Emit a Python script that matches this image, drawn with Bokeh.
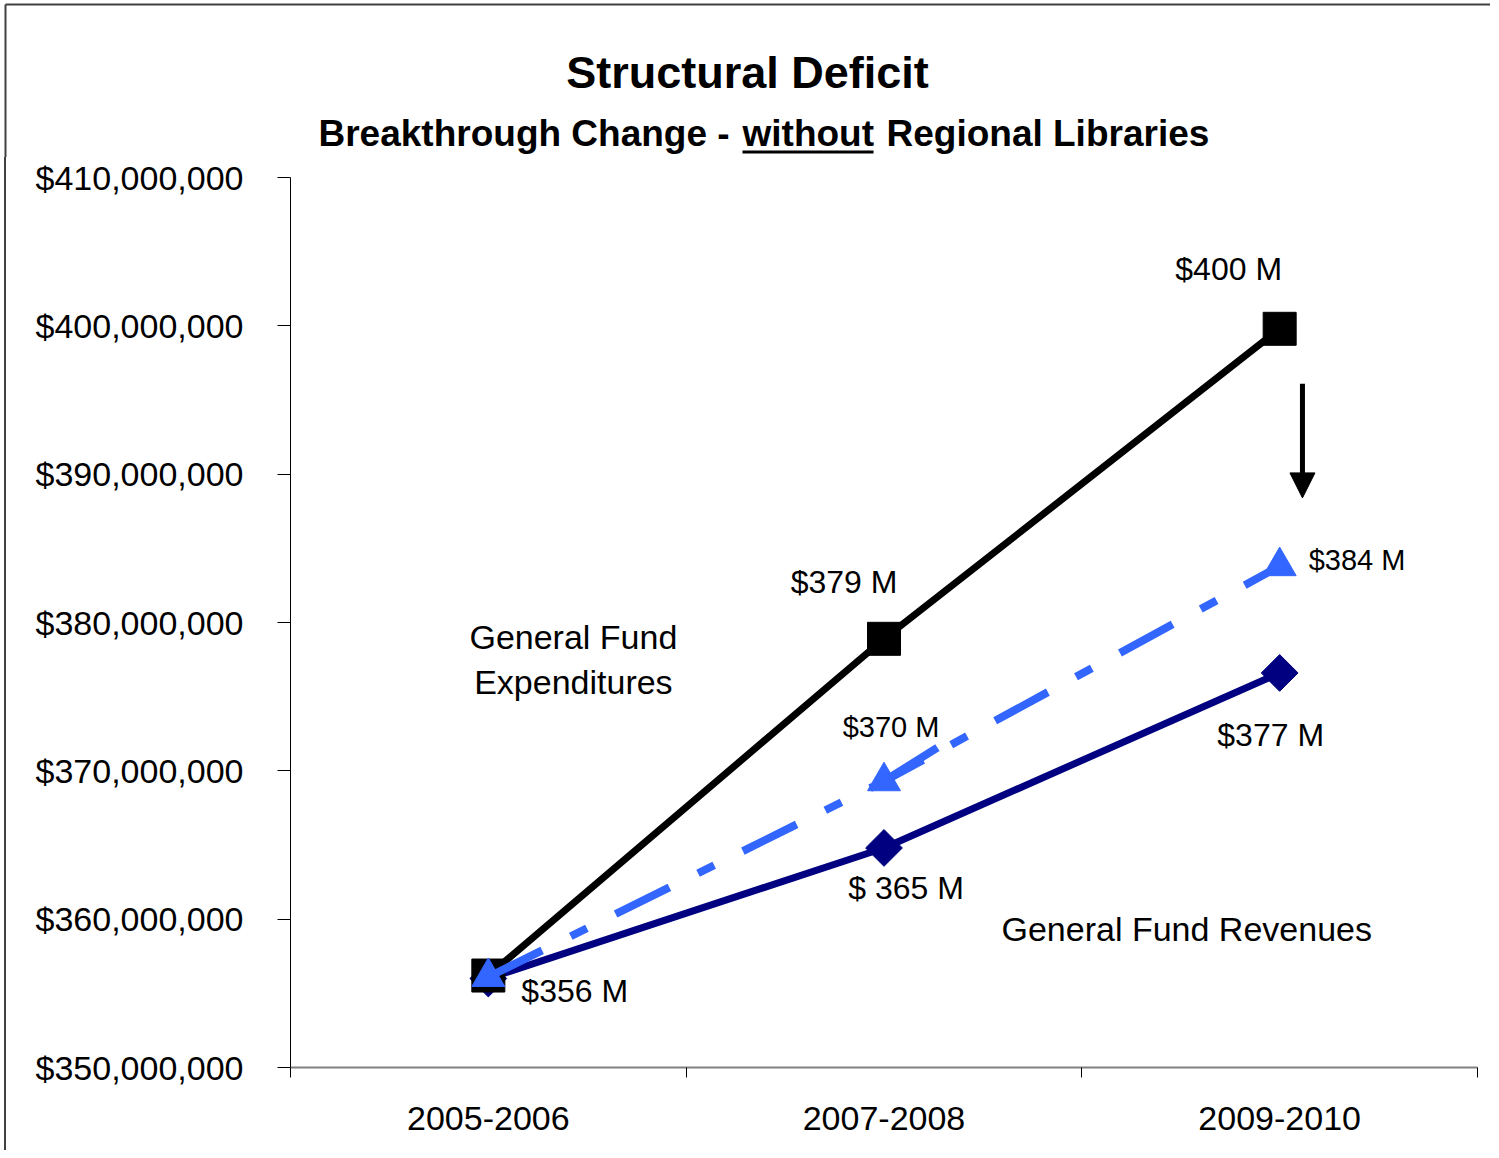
import math
from bokeh.plotting import figure
from bokeh.layouts import column, row
from bokeh.models import (Range1d, FixedTicker, NumeralTickFormatter,
                          Arrow, NormalHead, Div)
from bokeh.embed import file_html
from bokeh.resources import INLINE
from bokeh.core.properties import value

# ---------------- data ----------------
categories = ["2005-2006", "2007-2008", "2009-2010"]
expenditures_m = [356.2, 378.9, 399.8]     # General Fund Expenditures ($M)
revenues_m = [356.0, 364.8, 376.6]         # General Fund Revenues ($M)
breakthrough_m = [356.1, 369.3, 383.8]     # Breakthrough change ($M)
exp_labels = ["$356 M", "$379 M", "$400 M"]
rev_labels = ["$ 365 M", "$377 M"]
brk_labels = ["$370 M", "$384 M"]
y_ticks_m = [350, 360, 370, 380, 390, 400, 410]

title_text = "Structural Deficit"
subtitle_parts = ["Breakthrough Change -", "without", "Regional Libraries"]

# ---------------- layout constants ----------------
W = 1490
TOP_H = 157
MAIN_H = 993
STRIP_W = 8
FONT = "Liberation Sans"
FRAME_COLOR = "#404040"
M = 1e6


def blank(width, height):
    f = figure(width=width, height=height, output_backend="svg", toolbar_location=None,
               x_range=Range1d(0, width), y_range=Range1d(height, 0),
               x_axis_type=None, y_axis_type=None,
               min_border_left=0, min_border_right=0, min_border_top=0, min_border_bottom=0)
    f.grid.visible = False
    f.outline_line_color = None
    f.background_fill_color = "white"
    f.border_fill_color = "white"
    return f


# ---------------- title band ----------------
top = blank(W, TOP_H)
top.segment(x0=[5], y0=[4], x1=[W + 5], y1=[4], line_color=FRAME_COLOR, line_width=2)
top.segment(x0=[5], y0=[4], x1=[5], y1=[TOP_H + 5], line_color=FRAME_COLOR, line_width=2)
top.text(x=[747], y=[72], text=[title_text], text_font=value(FONT),
         text_font_size="45px", text_font_style="bold", text_color="black",
         text_align="center", text_baseline="middle")
top.text(x=[318, 742, 886], y=[133, 133, 133], text=subtitle_parts, text_font=value(FONT),
         text_font_size="37px", text_font_style="bold", text_color="black",
         text_align="left", text_baseline="middle")
top.segment(x0=[742], y0=[151.5], x1=[873], y1=[151.5], line_color="black", line_width=3)

# ---------------- left frame strip ----------------
strip = Div(text="", width=STRIP_W, height=MAIN_H, margin=(0, 0, 0, 0),
            styles={"background": "linear-gradient(to right, white 0px, white 4px, "
                                  "#404040 4px, #404040 6px, white 6px, white 100%)"})

# ---------------- main chart ----------------
MW = W - STRIP_W
xs = [i + 0.5 for i in range(len(categories))]
exp = [v * M for v in expenditures_m]
rev = [v * M for v in revenues_m]
brk = [v * M for v in breakthrough_m]

p = figure(width=MW, height=MAIN_H, output_backend="svg", toolbar_location=None,
           x_range=Range1d(0, len(categories)),
           y_range=Range1d(y_ticks_m[0] * M, y_ticks_m[-1] * M),
           min_border_left=290 - STRIP_W, min_border_right=MW - (1477 - STRIP_W),
           min_border_top=177 - TOP_H, min_border_bottom=MAIN_H - (1067 - TOP_H))
p.grid.visible = False
p.outline_line_color = None
p.background_fill_color = "white"
p.border_fill_color = "white"

# x axis
xa = p.xaxis[0]
xa.ticker = FixedTicker(ticks=xs, minor_ticks=list(range(len(categories) + 1)))
xa.major_label_overrides = {x: c for x, c in zip(xs, categories)}
xa.major_tick_out = 0
xa.major_tick_in = 0
xa.minor_tick_out = 10
xa.minor_tick_in = 0
xa.minor_tick_line_color = "black"
xa.axis_line_color = "#808080"
xa.axis_line_width = 2
xa.major_label_text_font = FONT
xa.major_label_text_font_size = "34px"
xa.major_label_text_color = "black"
xa.major_label_standoff = 29

# y axis
ya = p.yaxis[0]
ya.ticker = FixedTicker(ticks=[v * M for v in y_ticks_m], minor_ticks=[])
ya.formatter = NumeralTickFormatter(format="$0,0")
ya.major_tick_out = 13
ya.major_tick_in = 0
ya.minor_tick_out = 0
ya.minor_tick_in = 0
ya.major_tick_line_color = "black"
ya.axis_line_color = "black"
ya.axis_line_width = 1
ya.major_label_text_font = FONT
ya.major_label_text_font_size = "34px"
ya.major_label_text_color = "black"
ya.major_label_standoff = 34

NAVY = "#000080"
BLUE = "#3366FF"

# revenues
p.line(xs, rev, line_color=NAVY, line_width=7)
p.scatter(xs, rev, marker="square", angle=math.pi / 4, size=26,
          fill_color=NAVY, line_color=NAVY)
# expenditures
p.line(xs, exp, line_color="black", line_width=7)
p.scatter(xs, exp, marker="square", size=33, fill_color="black", line_color="black")
# breakthrough (dash-dot)
p.line(xs, brk, line_color=BLUE, line_width=8, line_dash="60 32 18 32")
# pointer shaft towards the 2007-2008 breakthrough point
p.segment(x0=[1.635], y0=[371.57 * M], x1=[xs[1]], y1=[brk[1]],
          line_color=BLUE, line_width=8)
p.scatter(xs, brk, marker="triangle", size=33, fill_color=BLUE, line_color=BLUE)

# black downward arrow
p.add_layout(Arrow(end=NormalHead(size=25, fill_color="black", line_color="black"),
                   x_start=2.5576, y_start=396.1 * M, x_end=2.5576, y_end=388.4 * M,
                   line_color="black", line_width=5))


def lbl(x, y, text, xo, yo, align="center", size="32px"):
    p.text(x=[x], y=[y], text=[text], x_offset=xo, y_offset=yo,
           text_font=value(FONT), text_font_size=size, text_color="black",
           text_align=align, text_baseline="middle")


# data labels
lbl(xs[0], exp[0], exp_labels[0], 33, 15, "left")
lbl(xs[1], exp[1], exp_labels[1], -40, -57)
lbl(xs[2], exp[2], exp_labels[2], -51, -60)
lbl(xs[1], rev[1], rev_labels[0], 22, 40)
lbl(xs[2], rev[2], rev_labels[1], -9, 62)
lbl(xs[1], brk[1], brk_labels[0], 7, -54, "center", "29px")
lbl(xs[2], brk[2], brk_labels[1], 29, -6, "left", "29px")

# series names
p.text(x=[0.715], y=[377.5 * M], text=["General Fund\nExpenditures"],
       text_font=value(FONT), text_font_size="34px", text_color="black",
       text_align="center", text_baseline="middle", text_line_height=1.2)
p.text(x=[1.797], y=[359.37 * M], text=["General Fund Revenues"],
       text_font=value(FONT), text_font_size="34px", text_color="black",
       text_align="left", text_baseline="middle")

layout = column(top, row(strip, p, spacing=0), spacing=0)
open("out.html", "w").write(file_html(layout, INLINE))
